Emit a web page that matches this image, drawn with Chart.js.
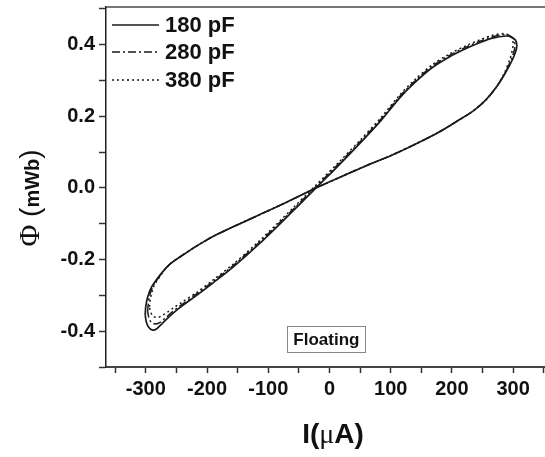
<!DOCTYPE html>
<html><head><meta charset="utf-8">
<script src="https://cdn.jsdelivr.net/npm/chart.js@4.4.0/dist/chart.umd.min.js"></script>
<style>html,body{margin:0;padding:0;background:#fff;overflow:hidden}</style>
</head><body>
<canvas id="c" width="545" height="457"></canvas>
<script>
// ---- data ----
const seriesLabels = ['180 pF', '280 pF', '380 pF'];

const x180 = [-301,-300,-297,-291,-280,-262,-240,-212,-185,-150,-117,-70,-22,20,60,100,140,180,212,235,255,272,287,298,304,306,
              304,297,289,266,245,223,195,168,140,114,85,50,15,-22,-60,-114,-158,-190,-217,-245,-262,-274,-282,-289,-295,-299,-301];
const y180 = [-0.355,-0.33,-0.305,-0.278,-0.25,-0.215,-0.188,-0.157,-0.131,-0.103,-0.077,-0.04,0,0.032,0.062,0.09,0.122,0.157,0.19,0.215,0.245,0.28,0.32,0.355,0.38,0.397,
              0.412,0.421,0.424,0.418,0.405,0.389,0.365,0.336,0.295,0.25,0.19,0.125,0.063,0,-0.065,-0.155,-0.222,-0.265,-0.3,-0.335,-0.36,-0.38,-0.393,-0.397,-0.39,-0.375,-0.355];

const x280 = [-297,-296,-294,-289,-279,-262,-240,-212,-185,-150,-117,-70,-22,20,60,100,140,180,212,235,255,272,287,297,302,303,
              301,295,288,266,245,223,195,168,140,114,85,50,15,-22,-60,-114,-158,-190,-217,-243,-258,-268,-276,-284,-291,-295,-297];
const y280 = [-0.345,-0.325,-0.303,-0.277,-0.25,-0.215,-0.188,-0.157,-0.131,-0.103,-0.077,-0.04,0,0.032,0.062,0.09,0.122,0.157,0.19,0.215,0.245,0.28,0.322,0.36,0.385,0.40,
              0.415,0.424,0.428,0.422,0.409,0.393,0.369,0.340,0.299,0.254,0.194,0.129,0.067,0.004,-0.061,-0.151,-0.218,-0.261,-0.296,-0.328,-0.348,-0.363,-0.375,-0.38,-0.375,-0.362,-0.345];

const x380 = [-294,-293,-291,-287,-278,-262,-240,-212,-185,-150,-117,-70,-22,20,60,100,140,180,212,235,255,272,286,295,299,300,
              298,292,286,266,245,223,195,168,140,114,85,50,15,-22,-60,-114,-158,-190,-217,-240,-254,-264,-273,-281,-288,-292,-294];
const y380 = [-0.332,-0.315,-0.298,-0.275,-0.25,-0.215,-0.188,-0.157,-0.131,-0.103,-0.077,-0.04,0,0.032,0.062,0.09,0.122,0.157,0.19,0.215,0.245,0.28,0.322,0.362,0.388,0.403,
              0.418,0.427,0.431,0.426,0.413,0.397,0.373,0.344,0.303,0.258,0.198,0.133,0.071,0.008,-0.057,-0.147,-0.214,-0.257,-0.292,-0.318,-0.334,-0.346,-0.356,-0.362,-0.358,-0.347,-0.332];

const xTickValues = [-350,-300,-250,-200,-150,-100,-50,0,50,100,150,200,250,300,350];
const xTickLabels = {'-300':'-300','-200':'-200','-100':'-100','0':'0','100':'100','200':'200','300':'300'};
const yTickValues = [-0.5,-0.4,-0.3,-0.2,-0.1,0,0.1,0.2,0.3,0.4,0.5];
const yTickLabels = {'-4':'-0.4','-2':'-0.2','0':'0.0','2':'0.2','4':'0.4'};

const toPts = (xs, ys) => xs.map((x, i) => ({x: x, y: ys[i]}));

const INK = '#1a1a1a';
const datasets = [
  {label: seriesLabels[0], data: toPts(x180, y180), borderColor: INK, borderWidth: 1.7, borderDash: []},
  {label: seriesLabels[1], data: toPts(x280, y280), borderColor: INK, borderWidth: 1.5, borderDash: [8, 3, 2, 3]},
  {label: seriesLabels[2], data: toPts(x380, y380), borderColor: INK, borderWidth: 1.5, borderDash: [2, 3]}
].map(d => Object.assign(d, {showLine: true, pointRadius: 0, tension: 0.3, fill: false}));

const SANS = '"Liberation Sans", Arial, sans-serif';
const SERIF = '"Liberation Serif", "Times New Roman", serif';

const decor = {
  id: 'decor',
  afterDraw(chart) {
    const ctx = chart.ctx;
    const xs = chart.scales.x, ys = chart.scales.y;
    ctx.save();
    // legend
    const rows = [25, 52, 80];
    chart.data.datasets.forEach((ds, i) => {
      ctx.beginPath();
      ctx.setLineDash(ds.borderDash || []);
      ctx.lineWidth = ds.borderWidth;
      ctx.strokeStyle = ds.borderColor;
      ctx.moveTo(112, rows[i]); ctx.lineTo(159, rows[i]);
      ctx.stroke();
      ctx.setLineDash([]);
      ctx.fillStyle = '#111';
      ctx.font = 'bold 22px ' + SANS;
      ctx.textBaseline = 'middle';
      ctx.textAlign = 'left';
      ctx.fillText(ds.label, 165, rows[i] + 1);
    });
    // Floating box
    const cx = xs.getPixelForValue(-5), cy = ys.getPixelForValue(-0.422);
    ctx.strokeStyle = '#888'; ctx.lineWidth = 1;
    ctx.strokeRect(Math.round(cx - 39) + 0.5, Math.round(cy - 13) + 0.5, 78, 26);
    ctx.font = 'bold 17px ' + SANS;
    ctx.textAlign = 'center'; ctx.textBaseline = 'middle';
    ctx.fillStyle = '#111';
    ctx.fillText('Floating', cx, cy + 1);
    // x title
    const xparts = [['I(', 'bold 28px ' + SANS], ['\u03bc', '28px ' + SERIF], ['A)', 'bold 28px ' + SANS]];
    drawParts(ctx, xparts, 333, 443);
    // y title (rotated)
    ctx.save();
    ctx.translate(39, 198);
    ctx.rotate(-Math.PI / 2);
    const yparts = [['\u03a6', '30px ' + SERIF], [' (', '28px ' + SANS], ['mWb', 'bold 20px ' + SANS], [')', '28px ' + SANS]];
    drawParts(ctx, yparts, 0, 0);
    ctx.restore();
    ctx.restore();
  }
};
function drawParts(ctx, parts, cx, baseY) {
  let total = 0;
  const w = parts.map(p => { ctx.font = p[1]; const m = ctx.measureText(p[0]).width; total += m; return m; });
  let x = cx - total / 2;
  ctx.textAlign = 'left'; ctx.textBaseline = 'alphabetic'; ctx.fillStyle = '#111';
  parts.forEach((p, i) => { ctx.font = p[1]; ctx.fillText(p[0], x, baseY); x += w[i]; });
}

new Chart(document.getElementById('c'), {
  type: 'scatter',
  data: {datasets: datasets},
  options: {
    responsive: false,
    animation: false,
    layout: {padding: {top: 7, left: 0, right: 0, bottom: 0}},
    plugins: {legend: {display: false}, tooltip: {enabled: false}},
    scales: {
      x: {
        type: 'linear', position: 'bottom', min: -365, max: 352,
        afterBuildTicks: a => { a.ticks = xTickValues.map(v => ({value: v})); },
        afterFit: a => { a.height = 90; a.paddingLeft = 0; a.paddingRight = 0; },
        ticks: {
          callback: v => (xTickLabels[String(Math.round(v))] || ''),
          font: {family: SANS, size: 20, weight: 'bold'}, color: '#111', padding: 4,
          maxRotation: 0, autoSkip: false
        },
        grid: {drawOnChartArea: false, drawTicks: true, tickLength: 6, tickColor: '#333', tickWidth: 1.5},
        border: {display: true, color: '#444', width: 2}
      },
      xTop: {
        type: 'linear', position: 'top', min: -365, max: 352, display: true,
        afterFit: a => { a.height = 0; a.paddingLeft = 0; a.paddingRight = 0; },
        ticks: {display: false},
        grid: {drawOnChartArea: false, drawTicks: false},
        border: {display: true, color: '#777', width: 2}
      },
      y: {
        type: 'linear', position: 'left', min: -0.5, max: 0.505,
        afterBuildTicks: a => { a.ticks = yTickValues.map(v => ({value: v})); },
        afterFit: a => { a.width = 106; a.paddingTop = 0; a.paddingBottom = 0; },
        ticks: {
          callback: v => (yTickLabels[String(Math.round(v * 10))] || ''),
          font: {family: SANS, size: 20, weight: 'bold'}, color: '#111', padding: 4,
          autoSkip: false
        },
        grid: {drawOnChartArea: false, drawTicks: true, tickLength: 7, tickColor: '#333', tickWidth: 1.5},
        border: {display: true, color: '#222', width: 1.5}
      }
    }
  },
  plugins: [decor]
});
</script>
</body></html>
